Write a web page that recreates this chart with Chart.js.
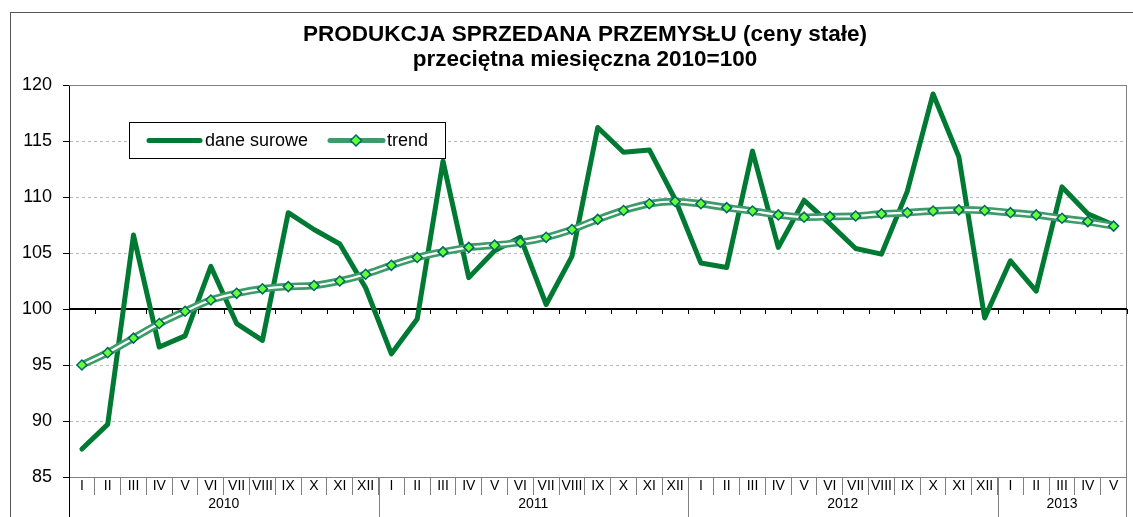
<!DOCTYPE html>
<html><head><meta charset="utf-8">
<script src="https://cdn.jsdelivr.net/npm/chart.js@4.4.1/dist/chart.umd.min.js"></script>
<style>html,body{margin:0;padding:0;background:#fff;overflow:hidden}#wrap{position:relative;width:1133px;height:517px}</style>
</head><body><div id="wrap"><canvas id="c"></canvas></div>
<script>
const titleLines = ['PRODUKCJA SPRZEDANA PRZEMYSŁU (ceny stałe)', 'przeciętna miesięczna 2010=100'];
const monthLabels = [
  'I','II','III','IV','V','VI','VII','VIII','IX','X','XI','XII',
  'I','II','III','IV','V','VI','VII','VIII','IX','X','XI','XII',
  'I','II','III','IV','V','VI','VII','VIII','IX','X','XI','XII',
  'I','II','III','IV','V'
];
const yearLabels = ['2010','2011','2012','2013'];
const yearMonthCounts = [12,12,12,5];
const seriesNames = ['dane surowe','trend'];
const rawValues = [
  87.5, 89.7, 106.6, 96.6, 97.6, 103.8, 98.7, 97.2, 108.6, 107.1, 105.8, 101.9,
  96.0, 99.1, 113.2, 102.8, 105.2, 106.4, 100.4, 104.7, 116.2, 114.0, 114.2, 109.8,
  104.1, 103.7, 114.1, 105.5, 109.7, 107.6, 105.4, 104.9, 110.5, 119.2, 113.6, 99.2,
  104.3, 101.6, 110.9, 108.5, 107.5
];
const trendValues = [
  95.0, 96.1, 97.4, 98.7, 99.8, 100.8, 101.4, 101.8, 102.0, 102.1, 102.5, 103.1,
  103.9, 104.6, 105.1, 105.5, 105.7, 105.95, 106.4, 107.1, 108.0, 108.8, 109.4, 109.6,
  109.4, 109.05, 108.75, 108.4, 108.2, 108.25, 108.3, 108.5, 108.6, 108.75, 108.85, 108.8,
  108.6, 108.4, 108.1, 107.8, 107.4
];
const yMin = 85, yMax = 120, yStep = 5, axisCross = 100;

const FONT = "'Liberation Sans', Arial, sans-serif";
const RAW_COLOR = '#007a33';
const TREND_COLOR = '#3c9b69';
const MARK_FILL = '#66ff33';
const MARK_BORDER = '#006666';

function boundaries(x){
  const n = monthLabels.length;
  const half = (x.getPixelForValue(1) - x.getPixelForValue(0)) / 2;
  const arr = [];
  for (let i = 0; i < n; i++) arr.push(x.getPixelForValue(i) - half);
  arr.push(x.getPixelForValue(n - 1) + half);
  return arr;
}

const deco = {
  id: 'deco',
  beforeDatasetsDraw(chart){
    const ctx = chart.ctx, a = chart.chartArea, xs = chart.scales.x, ys = chart.scales.y;
    ctx.save();
    ctx.setLineDash([]);
    ctx.globalAlpha = 1;
    ctx.globalCompositeOperation = 'source-over';
    ctx.fillStyle = '#808080';
    const L = Math.round(a.left), R = Math.round(a.right), T = Math.round(a.top);
    ctx.fillRect(L, T, R - L, 1);
    ctx.fillRect(R - 1, T, 1, chart.height - T);
    const yc = Math.round(ys.getPixelForValue(axisCross));
    ctx.fillStyle = '#000000';
    ctx.fillRect(L, yc - 1, R - L, 2);
    boundaries(xs).forEach(b => { ctx.fillRect(Math.round(b), yc, 1, 5); });
    ctx.restore();
  },
  afterDraw(chart){
    const ctx = chart.ctx, a = chart.chartArea, xs = chart.scales.x;
    const b = boundaries(xs);
    ctx.save();
    ctx.setLineDash([]);
    const L = Math.round(a.left), B = Math.round(a.bottom);
    ctx.fillStyle = '#000';
    ctx.fillRect(L, B, 1, chart.height - B);
    ctx.font = '14px ' + FONT;
    ctx.textAlign = 'center'; ctx.textBaseline = 'middle';
    let idx = 0;
    yearLabels.forEach((lab, k) => {
      const start = b[idx], end = b[idx + yearMonthCounts[k]];
      idx += yearMonthCounts[k];
      if (k < yearLabels.length - 1) {
        ctx.fillStyle = '#808080';
        ctx.fillRect(Math.round(end), B, 1, chart.height - B);
      }
      ctx.fillStyle = '#000';
      ctx.fillText(lab, (start + end) / 2, B + 27);
    });
    ctx.fillStyle = '#555';
    ctx.fillRect(10, 12, 1, chart.height - 12);
    ctx.fillRect(10, 12, chart.width - 10, 1);
    ctx.fillStyle = '#000';
    ctx.font = 'bold 22.5px ' + FONT;
    ctx.fillText(titleLines[0], 585, 35);
    ctx.fillText(titleLines[1], 585, 60);
    const lx = 129.5, ly = 122.5, lw = 316, lh = 36, cy = 140.5;
    ctx.fillStyle = '#fff';
    ctx.fillRect(lx, ly, lw, lh);
    ctx.strokeStyle = '#000'; ctx.lineWidth = 1;
    ctx.strokeRect(lx, ly, lw, lh);
    ctx.lineCap = 'round';
    ctx.lineWidth = 5; ctx.strokeStyle = RAW_COLOR;
    ctx.beginPath(); ctx.moveTo(149, cy); ctx.lineTo(200, cy); ctx.stroke();
    ctx.strokeStyle = TREND_COLOR;
    ctx.beginPath(); ctx.moveTo(330, cy); ctx.lineTo(383, cy); ctx.stroke();
    ctx.fillStyle = MARK_FILL; ctx.strokeStyle = MARK_BORDER; ctx.lineWidth = 1.5;
    ctx.beginPath();
    ctx.moveTo(356, cy - 5.5); ctx.lineTo(361.5, cy); ctx.lineTo(356, cy + 5.5); ctx.lineTo(350.5, cy); ctx.closePath();
    ctx.fill(); ctx.stroke();
    ctx.fillStyle = '#000';
    ctx.font = '18px ' + FONT;
    ctx.textAlign = 'left';
    ctx.fillText(seriesNames[0], 205, cy + 1);
    ctx.fillText(seriesNames[1], 387, cy + 1);
    ctx.restore();
  }
};

new Chart(document.getElementById('c'), {
  type: 'line',
  data: {
    labels: monthLabels,
    datasets: [
      {label: seriesNames[1], data: trendValues, order: 0, borderColor: '#ffffff', borderWidth: 2.2,
       pointStyle: 'rectRot', pointRadius: 5, pointBackgroundColor: MARK_FILL, pointBorderColor: MARK_BORDER,
       pointBorderWidth: 1.5, pointHoverRadius: 5, tension: 0.3, borderJoinStyle: 'round'},
      {label: seriesNames[1], data: trendValues, order: 1, borderColor: TREND_COLOR, borderWidth: 7.5,
       pointRadius: 0, tension: 0.3, borderJoinStyle: 'round'},
      {label: seriesNames[0], data: rawValues, order: 2, borderColor: RAW_COLOR, borderWidth: 5,
       pointRadius: 0, tension: 0, borderJoinStyle: 'round', borderCapStyle: 'round'}
    ]
  },
  options: {
    responsive: true, maintainAspectRatio: false, animation: false,
    layout: {padding: {left: 10, right: 4, top: 85, bottom: 0}},
    plugins: {legend: {display: false}, title: {display: false}, tooltip: {enabled: false}},
    scales: {
      x: {
        type: 'category', offset: true,
        grid: {display: true, drawOnChartArea: false, drawTicks: true, tickLength: 18, offset: true, color: '#808080', tickColor: '#808080'},
        border: {display: true, color: '#808080'},
        ticks: {autoSkip: false, maxRotation: 0, minRotation: 0, padding: -17, color: '#000', font: {family: FONT, size: 14}},
        afterFit(s){ s.height = 40; }
      },
      y: {
        min: yMin, max: yMax,
        ticks: {stepSize: yStep, padding: 11, color: '#000', font: {family: FONT, size: 18}},
        grid: {color: '#b8b8b8', tickColor: '#000', tickLength: 6},
        border: {display: true, color: '#000', dash: [3, 3]},
        afterFit(s){ s.width = 59; }
      }
    }
  },
  plugins: [deco]
});
</script></body></html>
